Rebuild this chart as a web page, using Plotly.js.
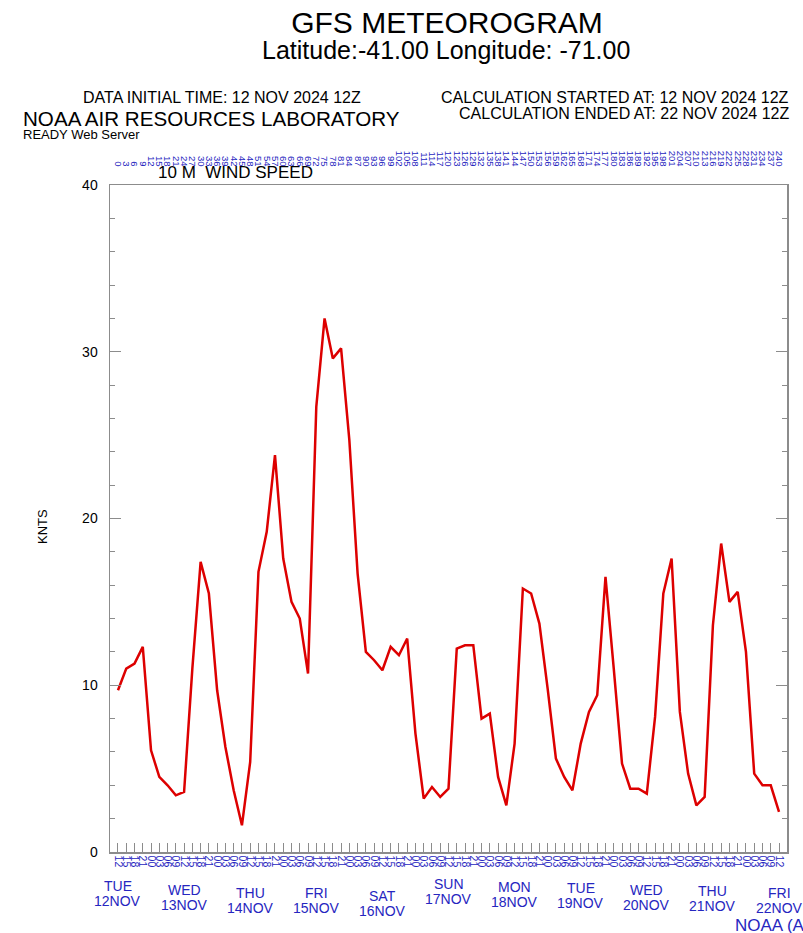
<!DOCTYPE html>
<html><head><meta charset="utf-8">
<script src="https://cdn.plot.ly/plotly-3.0.1.min.js"></script>
<style>html,body{margin:0;padding:0;background:#fff}#chart{width:803px;height:933px}</style>
</head><body><div id="chart"></div>
<script>
// ---- data ----
const forecastHours = [0,3,6,9,12,15,18,21,24,27,30,33,36,39,42,45,48,51,54,57,60,63,66,69,72,75,78,81,84,87,90,93,96,99,102,105,108,111,114,117,120,123,126,129,132,135,138,141,144,147,150,153,156,159,162,165,168,171,174,177,180,183,186,189,192,195,198,201,204,207,210,213,216,219,222,225,228,231,234,237,240];
const forecastHourLabels = ['0','3','6','9','12','15','18','21','24','27','30','33','36','39','42','45','48','51','54','57','60','63','66','69','72','75','78','81','84','87','90','93','96','99','102','105','108','111','114','117','120','123','126','129','132','135','138','141','144','147','150','153','156','159','162','165','168','171','174','177','180','183','186','189','192','195','198','201','204','207','210','213','216','219','222','225','228','231','234','237','240'];
const utcHourLabels = ['12','15','18','21','00','03','06','09','12','15','18','21','00','03','06','09','12','15','18','21','00','03','06','09','12','15','18','21','00','03','06','09','12','15','18','21','00','03','06','09','12','15','18','21','00','03','06','09','12','15','18','21','00','03','06','09','12','15','18','21','00','03','06','09','12','15','18','21','00','03','06','09','12','15','18','21','00','03','06','09','12'];
const windSpeedKnts = [
  9.7, 11.0, 11.3, 12.3, 6.1, 4.5, 4.0, 3.4, 3.6, 11.0,
  17.4, 15.5, 9.7, 6.3, 3.7, 1.6, 5.4, 16.8, 19.2, 23.8,
  17.6, 15.0, 14.0, 10.7, 26.7, 32.0, 29.6, 30.2, 24.7, 16.7,
  12.0, 11.5, 10.9, 12.3, 11.8, 12.8, 7.1, 3.2, 3.9, 3.3,
  3.8, 12.2, 12.4, 12.4, 8.0, 8.3, 4.5, 2.8, 6.5, 15.8,
  15.5, 13.7, 9.8, 5.6, 4.5, 3.7, 6.5, 8.4, 9.4, 16.5,
  11.0, 5.3, 3.8, 3.8, 3.5, 8.1, 15.5, 17.6, 8.4, 4.7,
  2.8, 3.3, 13.6, 18.5, 15.0, 15.6, 12.0, 4.7, 4.0, 4.0,
  2.4];
const dayHours = [0,24,48,72,96,120,144,168,192,216,240];
const dayNames = ['TUE','WED','THU','FRI','SAT','SUN','MON','TUE','WED','THU','FRI'];
const dayDates = ['12NOV','13NOV','14NOV','15NOV','16NOV','17NOV','18NOV','19NOV','20NOV','21NOV','22NOV'];

// ---- style ----
const FONT = '"Liberation Sans", Arial, sans-serif';
const BLUE = '#2626c0';
const FRAME = '#8c8c8c';
const dayNameY = [886,890,893,893,896,884,887,888,890,891,893]; // pixel rows of day-name labels
const L = 110, R = 787, T = 185, B = 852;
const px = x => (x - L) / (R - L);
const py = y => (B - y) / (B - T);

function txt(text, x, y, size, opts) {
  return Object.assign({
    text: text, xref: 'paper', yref: 'paper', x: px(x), y: py(y),
    xanchor: 'left', yanchor: 'middle', showarrow: false,
    font: {family: FONT, size: size, color: '#000'}
  }, opts || {});
}

const annotations = [
  txt('Latitude:-41.00 Longitude: -71.00', 446, 50, 25, {xanchor: 'center'}),
  txt('DATA INITIAL TIME: 12 NOV 2024 12Z', 81, 97, 16),
  txt('NOAA AIR RESOURCES LABORATORY', 21, 119, 20.6),
  txt('READY Web Server', 21, 134.5, 13),
  txt('CALCULATION STARTED AT: 12 NOV 2024 12Z', 791, 97, 16, {xanchor: 'right'}),
  txt('CALCULATION ENDED AT: 22 NOV 2024 12Z', 791, 113, 16, {xanchor: 'right'}),
  txt('10 M\u00a0 WIND SPEED', 156, 172, 17),
  txt('KNTS', 42, 527, 13, {xanchor: 'center', textangle: -90}),
  txt('NOAA (ARL)', 733, 925, 17, {font: {family: FONT, size: 17, color: BLUE}})
];
dayHours.forEach((h, i) => {
  annotations.push({text: dayNames[i], xref: 'x', yref: 'paper', x: h, y: py(dayNameY[i]),
    xanchor: 'center', yanchor: 'middle', showarrow: false,
    font: {family: FONT, size: 14, color: BLUE}});
  annotations.push({text: dayDates[i], xref: 'x', yref: 'paper', x: h, y: py(dayNameY[i] + 15),
    xanchor: 'center', yanchor: 'middle', showarrow: false,
    font: {family: FONT, size: 14, color: BLUE}});
});

const traces = [
  {x: forecastHours, y: windSpeedKnts, type: 'scatter', mode: 'lines',
   line: {color: '#dd0000', width: 2.5}, xaxis: 'x', yaxis: 'y', hoverinfo: 'skip'},
  {x: forecastHours, y: windSpeedKnts, type: 'scatter', mode: 'lines',
   line: {color: 'rgba(0,0,0,0)', width: 0}, xaxis: 'x2', yaxis: 'y', hoverinfo: 'skip'}
];

const xr = [-2.9, 242.9];
const layout = {
  width: 803, height: 933,
  margin: {l: L, r: 803 - R, t: T, b: 933 - B, pad: 0, autoexpand: false},
  paper_bgcolor: '#fff', plot_bgcolor: '#fff', showlegend: false,
  font: {family: FONT, color: '#000'},
  title: {text: 'GFS METEOROGRAM', x: 447 / 803, xanchor: 'center', xref: 'container',
    y: 1 - 22 / 933, yanchor: 'middle', yref: 'container',
    font: {family: FONT, size: 30, color: '#000'}},
  xaxis: {range: xr, tickmode: 'array', tickvals: forecastHours, ticktext: utcHourLabels,
    tickangle: 90, ticks: 'inside', ticklen: 9, tickwidth: 1, tickcolor: FRAME,
    showline: true, linecolor: FRAME, linewidth: 1.5, mirror: true,
    showgrid: false, zeroline: false, tickfont: {family: FONT, size: 10.5, color: BLUE}},
  xaxis2: {overlaying: 'x', side: 'top', anchor: 'y', range: xr, tickmode: 'array',
    tickvals: forecastHours, ticktext: forecastHourLabels, tickangle: 90, ticks: '',
    showline: false, showgrid: false, zeroline: false, ticklabelstandoff: 16,
    tickfont: {family: FONT, size: 9.5, color: BLUE}},
  yaxis: {range: [0, 40], tickmode: 'linear', tick0: 0, dtick: 10, ticks: 'inside',
    ticklen: 11, tickwidth: 1, tickcolor: FRAME, showline: true, linecolor: FRAME,
    linewidth: 1.5, mirror: 'ticks', showgrid: false, zeroline: false,
    ticklabelstandoff: 8, tickfont: {family: FONT, size: 14, color: '#000'},
    minor: {tick0: 0, dtick: 2, ticks: 'inside', ticklen: 5, tickcolor: FRAME, showgrid: false}},
  annotations: annotations
};

Plotly.newPlot('chart', traces, layout, {staticPlot: true, displayModeBar: false});
</script>
</body></html>
